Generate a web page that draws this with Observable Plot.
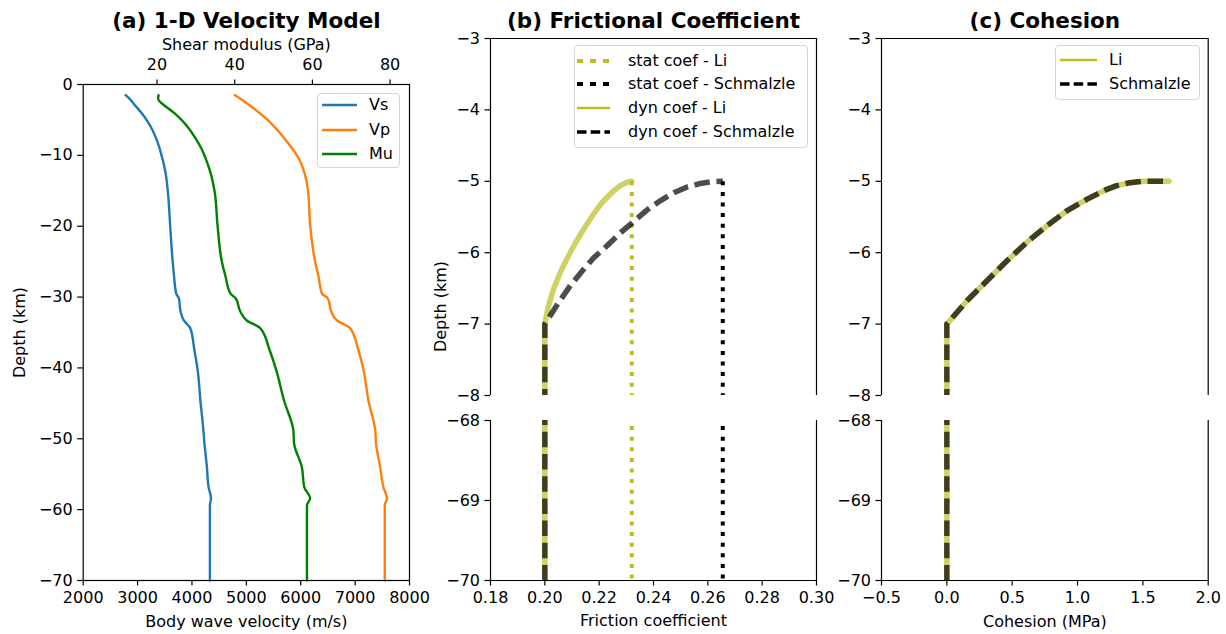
<!DOCTYPE html>
<html><head><meta charset="utf-8">
<script src="https://cdn.jsdelivr.net/npm/d3@7"></script>
<script src="https://cdn.jsdelivr.net/npm/@observablehq/plot@0.6"></script>
<style>
body{margin:0;background:#fff;}
#root{position:relative;width:1226px;height:634px;font-family:"DejaVu Sans",sans-serif;color:#000;overflow:hidden;background:#fff}
.p{position:absolute}
.leg{position:absolute;background:rgba(255,255,255,0.8);border:1px solid #d6d6d6;border-radius:4px;box-sizing:border-box}
.row{position:absolute;height:20px;line-height:20px;font-size:16px;white-space:nowrap}
.row svg{position:absolute;top:0}
</style></head>
<body><div id="root"></div>
<script>
// ---------- Panel (a) data ----------
const depthA = [-1.5, -2, -3, -4, -5, -6, -7.5, -9, -10, -11, -12.5, -15, -20, -25, -27, -29.5, -30.2, -32, -33.3, -34.4, -37.5, -40.3, -44.6, -48.8, -50.7, -54, -56.8, -58.4, -59.4, -70];
const vsA = [2780, 2850, 2960, 3070, 3165, 3245, 3335, 3405, 3440, 3475, 3515, 3555, 3600, 3645, 3670, 3710, 3760, 3790, 3850, 3970, 4045, 4105, 4155, 4210, 4230, 4275, 4305, 4350, 4330, 4330];
const vpA = [4790, 4890, 5070, 5240, 5390, 5520, 5690, 5840, 5930, 6000, 6070, 6135, 6175, 6265, 6325, 6390, 6500, 6560, 6665, 6910, 7060, 7155, 7245, 7370, 7385, 7460, 7520, 7585, 7545, 7545];
const muA = [20.4, 20.3, 22.0, 24.4, 26.3, 27.9, 29.8, 31.4, 32.2, 32.9, 33.8, 34.8, 35.6, 36.7, 37.6, 38.9, 40.3, 41.4, 43.1, 46.6, 49.0, 50.7, 52.7, 55.1, 55.3, 57.3, 57.9, 59.4, 58.6, 58.6];
const velTicks = [2000, 3000, 4000, 5000, 6000, 7000, 8000];
const muTicks = [20, 40, 60, 80];
const depthTicksA = [-70, -60, -50, -40, -30, -20, -10, 0];
const velEdge = [2000, 8000];   // bottom axis limits (m/s)
const muEdge = [1, 85];         // top axis limits (GPa)

// ---------- Panel (b) data ----------
const dynDepthLi = [-70, -7, -6.75, -6.5, -6.25, -6.0, -5.75, -5.5, -5.3, -5.15, -5.06, -5.01, -5.0];
const dynLi = [0.2, 0.2, 0.2013, 0.2033, 0.2060, 0.2093, 0.2130, 0.2172, 0.2210, 0.2248, 0.2278, 0.2305, 0.232];
const dynDepthSch = [-70, -7, -6.72, -6.46, -6.26, -6.07, -5.9, -5.72, -5.56, -5.4, -5.27, -5.16, -5.08, -5.03, -5.005, -5.0];
const dynSch = [0.2, 0.2, 0.2047, 0.2094, 0.2137, 0.218, 0.223, 0.2279, 0.2328, 0.2377, 0.2426, 0.2475, 0.2524, 0.2573, 0.2615, 0.2655];
const statDepth = [-5, -70];
const statLi = 0.232;
const statSch = 0.2655;
const frictionTicks = [0.18, 0.20, 0.22, 0.24, 0.26, 0.28, 0.30];

// ---------- Panel (c) data ----------
const cohDepth = [-70, -7, -6.67, -6.39, -6.11, -5.85, -5.62, -5.41, -5.25, -5.12, -5.06, -5.02, -5.0, -5.0];
const cohLi = [0, 0, 0.156, 0.309, 0.462, 0.615, 0.768, 0.921, 1.074, 1.215, 1.30, 1.40, 1.50, 1.70];
const cohSch = [0, 0, 0.156, 0.309, 0.462, 0.615, 0.768, 0.921, 1.074, 1.215, 1.30, 1.40, 1.50, 1.70];
const cohTicks = [-0.5, 0, 0.5, 1.0, 1.5, 2.0];
const upperTicks = [-8, -7, -6, -5, -4, -3];
const lowerTicks = [-70, -69, -68];

// ---------- helpers ----------
const root = document.getElementById("root");
const FONT = '"DejaVu Sans", sans-serif';
const baseStyle = {fontFamily: FONT, fontSize: "16px", color: "black", background: "transparent", overflow: "visible"};
const OLIVE = "#bcbd22";
function place(el, left, top) {
  const d = document.createElement("div");
  d.className = "p"; d.style.left = left + "px"; d.style.top = top + "px";
  d.appendChild(el); root.appendChild(d);
}
const toVel = g => velEdge[0] + (g - muEdge[0]) / (muEdge[1] - muEdge[0]) * (velEdge[1] - velEdge[0]);
const fromVel = v => muEdge[0] + (v - velEdge[0]) / (velEdge[1] - velEdge[0]) * (muEdge[1] - muEdge[0]);
const fmtInt = d3.format("d");
const ax = {tickSize: 5.5, strokeWidth: 1.2, label: null};

// ---------- Panel (a) ----------
const rowsA = depthA.map((d, i) => ({depth: d, vs: vsA[i], vp: vpA[i], mu: toVel(muA[i])}))
  .sort((a, b) => a.depth - b.depth);
const A = Plot.plot({
  width: 420, height: 634, marginLeft: 82.7, marginRight: 11, marginTop: 84, marginBottom: 54,
  style: baseStyle,
  x: {domain: velEdge, axis: null}, y: {domain: [-70, 0], axis: null},
  marks: [
    Plot.line(rowsA, {x: "vs", y: "depth", stroke: "#1f77b4", strokeWidth: 2.4, curve: "monotone-y"}),
    Plot.line(rowsA, {x: "vp", y: "depth", stroke: "#ff7f0e", strokeWidth: 2.4, curve: "monotone-y"}),
    Plot.line(rowsA, {x: "mu", y: "depth", stroke: "#008000", strokeWidth: 2.4, curve: "monotone-y"}),
    Plot.frame({stroke: "black", strokeWidth: 1.2}),
    Plot.axisX({...ax, anchor: "bottom", ticks: velTicks, tickFormat: fmtInt, tickPadding: 6}),
    Plot.axisX({...ax, anchor: "top", ticks: muTicks.map(toVel), tickFormat: v => fmtInt(Math.round(fromVel(v))), tickPadding: 9.5}),
    Plot.axisY({...ax, anchor: "left", ticks: depthTicksA, tickFormat: fmtInt, tickPadding: 5}),
    Plot.text(["(a) 1-D Velocity Model"], {frameAnchor: "top", dy: -63.3, lineAnchor: "middle", fontWeight: "bold", fontSize: 21.5}),
    Plot.text(["Shear modulus (GPa)"], {frameAnchor: "top", dy: -39.7, lineAnchor: "middle"}),
    Plot.text(["Body wave velocity (m/s)"], {frameAnchor: "bottom", dy: 41.7, lineAnchor: "middle"}),
    Plot.text(["Depth (km)"], {frameAnchor: "left", dx: -63, rotate: -90, lineAnchor: "middle", textAnchor: "middle"})
  ]
});
place(A, 0, 0);

// ---------- Panel (b) ----------
const dynLiRows = dynDepthLi.map((d, i) => ({depth: d, v: dynLi[i]}));
const dynSchRows = dynDepthSch.map((d, i) => ({depth: d, v: dynSch[i]}));
const statLiRows = statDepth.map(d => ({depth: d, v: statLi}));
const statSchRows = statDepth.map(d => ({depth: d, v: statSch}));
function frictionMarks() {
  return [
    Plot.line(statLiRows, {x: "v", y: "depth", stroke: OLIVE, strokeWidth: 4, strokeDasharray: "4,6.6", strokeLinecap: "butt", clip: true}),
    Plot.line(statSchRows, {x: "v", y: "depth", stroke: "black", strokeWidth: 4, strokeDasharray: "4,6.6", strokeLinecap: "butt", clip: true}),
    Plot.line(dynLiRows, {x: "v", y: "depth", stroke: OLIVE, strokeOpacity: 0.7, strokeWidth: 5.5, clip: true}),
    Plot.line(dynSchRows, {x: "v", y: "depth", stroke: "black", strokeOpacity: 0.7, strokeWidth: 5.5, strokeDasharray: "15.5,6.7", strokeLinecap: "butt", clip: true})
  ];
}
const B1 = Plot.plot({
  width: 406, height: 405, marginLeft: 70, marginRight: 10, marginTop: 38, marginBottom: 10,
  style: baseStyle,
  x: {domain: [0.18, 0.30], axis: null}, y: {domain: [-8, -3], axis: null},
  marks: [
    ...frictionMarks(),
    Plot.ruleX([0.18, 0.30], {stroke: "black", strokeWidth: 1.2}),
    Plot.ruleY([-3], {stroke: "black", strokeWidth: 1.2}),
    Plot.axisY({...ax, anchor: "left", ticks: upperTicks, tickFormat: fmtInt, tickPadding: 5}),
    Plot.text(["(b) Frictional Coefficient"], {frameAnchor: "top", dy: -17.3, lineAnchor: "middle", fontWeight: "bold", fontSize: 21.5}),
    Plot.text(["Depth (km)"], {frameAnchor: "left", dx: -50, dy: 89.5, rotate: -90, lineAnchor: "middle", textAnchor: "middle"})
  ]
});
place(B1, 420, 0);
const B2 = Plot.plot({
  width: 406, height: 229, marginLeft: 70, marginRight: 10, marginTop: 15, marginBottom: 54,
  style: baseStyle,
  x: {domain: [0.18, 0.30], axis: null}, y: {domain: [-70, -68], axis: null},
  marks: [
    ...frictionMarks(),
    Plot.ruleX([0.18, 0.30], {stroke: "black", strokeWidth: 1.2}),
    Plot.ruleY([-70], {stroke: "black", strokeWidth: 1.2}),
    Plot.axisY({...ax, anchor: "left", ticks: lowerTicks, tickFormat: fmtInt, tickPadding: 5}),
    Plot.axisX({...ax, anchor: "bottom", ticks: frictionTicks, tickFormat: d3.format(".2f"), tickPadding: 6}),
    Plot.text(["Friction coefficient"], {frameAnchor: "bottom", dy: 40.5, lineAnchor: "middle"})
  ]
});
place(B2, 420, 405);

// ---------- Panel (c) ----------
const cohLiRows = cohDepth.map((d, i) => ({depth: d, v: cohLi[i]}));
const cohSchRows = cohDepth.map((d, i) => ({depth: d, v: cohSch[i]}));
function cohMarks() {
  return [
    Plot.line(cohLiRows, {x: "v", y: "depth", stroke: OLIVE, strokeOpacity: 0.7, strokeWidth: 5.5, clip: true}),
    Plot.line(cohSchRows, {x: "v", y: "depth", stroke: "black", strokeOpacity: 0.7, strokeWidth: 5.5, strokeDasharray: "15.5,6.7", strokeLinecap: "butt", clip: true})
  ];
}
const C1 = Plot.plot({
  width: 400, height: 405, marginLeft: 55, marginRight: 18.3, marginTop: 38, marginBottom: 10,
  style: baseStyle,
  x: {domain: [-0.5, 2.0], axis: null}, y: {domain: [-8, -3], axis: null},
  marks: [
    ...cohMarks(),
    Plot.ruleX([-0.5, 2.0], {stroke: "black", strokeWidth: 1.2}),
    Plot.ruleY([-3], {stroke: "black", strokeWidth: 1.2}),
    Plot.axisY({...ax, anchor: "left", ticks: upperTicks, tickFormat: fmtInt, tickPadding: 5}),
    Plot.text(["(c) Cohesion"], {frameAnchor: "top", dy: -17.3, lineAnchor: "middle", fontWeight: "bold", fontSize: 21.5})
  ]
});
place(C1, 826, 0);
const C2 = Plot.plot({
  width: 400, height: 229, marginLeft: 55, marginRight: 18.3, marginTop: 15, marginBottom: 54,
  style: baseStyle,
  x: {domain: [-0.5, 2.0], axis: null}, y: {domain: [-70, -68], axis: null},
  marks: [
    ...cohMarks(),
    Plot.ruleX([-0.5, 2.0], {stroke: "black", strokeWidth: 1.2}),
    Plot.ruleY([-70], {stroke: "black", strokeWidth: 1.2}),
    Plot.axisY({...ax, anchor: "left", ticks: lowerTicks, tickFormat: fmtInt, tickPadding: 5}),
    Plot.axisX({...ax, anchor: "bottom", ticks: cohTicks, tickFormat: d3.format(".1f"), tickPadding: 6}),
    Plot.text(["Cohesion (MPa)"], {frameAnchor: "bottom", dy: 41.5, lineAnchor: "middle"})
  ]
});
place(C2, 826, 405);

// ---------- Legends ----------
function legend(box, hx0, hx1, tx, entries) {
  const L = document.createElement("div");
  L.className = "leg";
  L.style.left = box[0] + "px"; L.style.top = box[1] + "px";
  L.style.width = (box[2] - box[0]) + "px"; L.style.height = (box[3] - box[1]) + "px";
  root.appendChild(L);
  for (const e of entries) {
    const r = document.createElement("div");
    r.className = "row";
    r.style.left = (hx0 - box[0] - 1) + "px";
    r.style.top = (e.y - 10 - box[1] - 1) + "px";
    const w = hx1 - hx0;
    r.innerHTML = `<svg width="${w}" height="20" style="left:0"><line x1="0" x2="${w}" y1="10" y2="10" stroke="${e.color}" stroke-width="${e.width}" ${e.dash ? `stroke-dasharray="${e.dash}"` : ""} stroke-linecap="butt"/></svg><span style="position:absolute;left:${tx - hx0}px">${e.label}</span>`;
    L.appendChild(r);
  }
}
legend([317, 93, 400, 168], 322, 357, 369, [
  {label: "Vs", color: "#1f77b4", width: 2.5, y: 105},
  {label: "Vp", color: "#ff7f0e", width: 2.5, y: 129.5},
  {label: "Mu", color: "#008000", width: 2.5, y: 154}
]);
legend([574, 45, 808, 148], 577, 610, 628, [
  {label: "stat coef - Li", color: OLIVE, width: 4, dash: "6,7", y: 60.5},
  {label: "stat coef - Schmalzle", color: "black", width: 4, dash: "6,7", y: 84},
  {label: "dyn coef - Li", color: OLIVE, width: 2.5, y: 108},
  {label: "dyn coef - Schmalzle", color: "black", width: 3.5, dash: "9.5,4.2", y: 132}
]);
legend([1055, 45, 1200, 100], 1060, 1097, 1109, [
  {label: "Li", color: OLIVE, width: 2.5, y: 59.5},
  {label: "Schmalzle", color: "black", width: 3.5, dash: "9.5,4.2", y: 83.5}
]);
</script></body></html>
